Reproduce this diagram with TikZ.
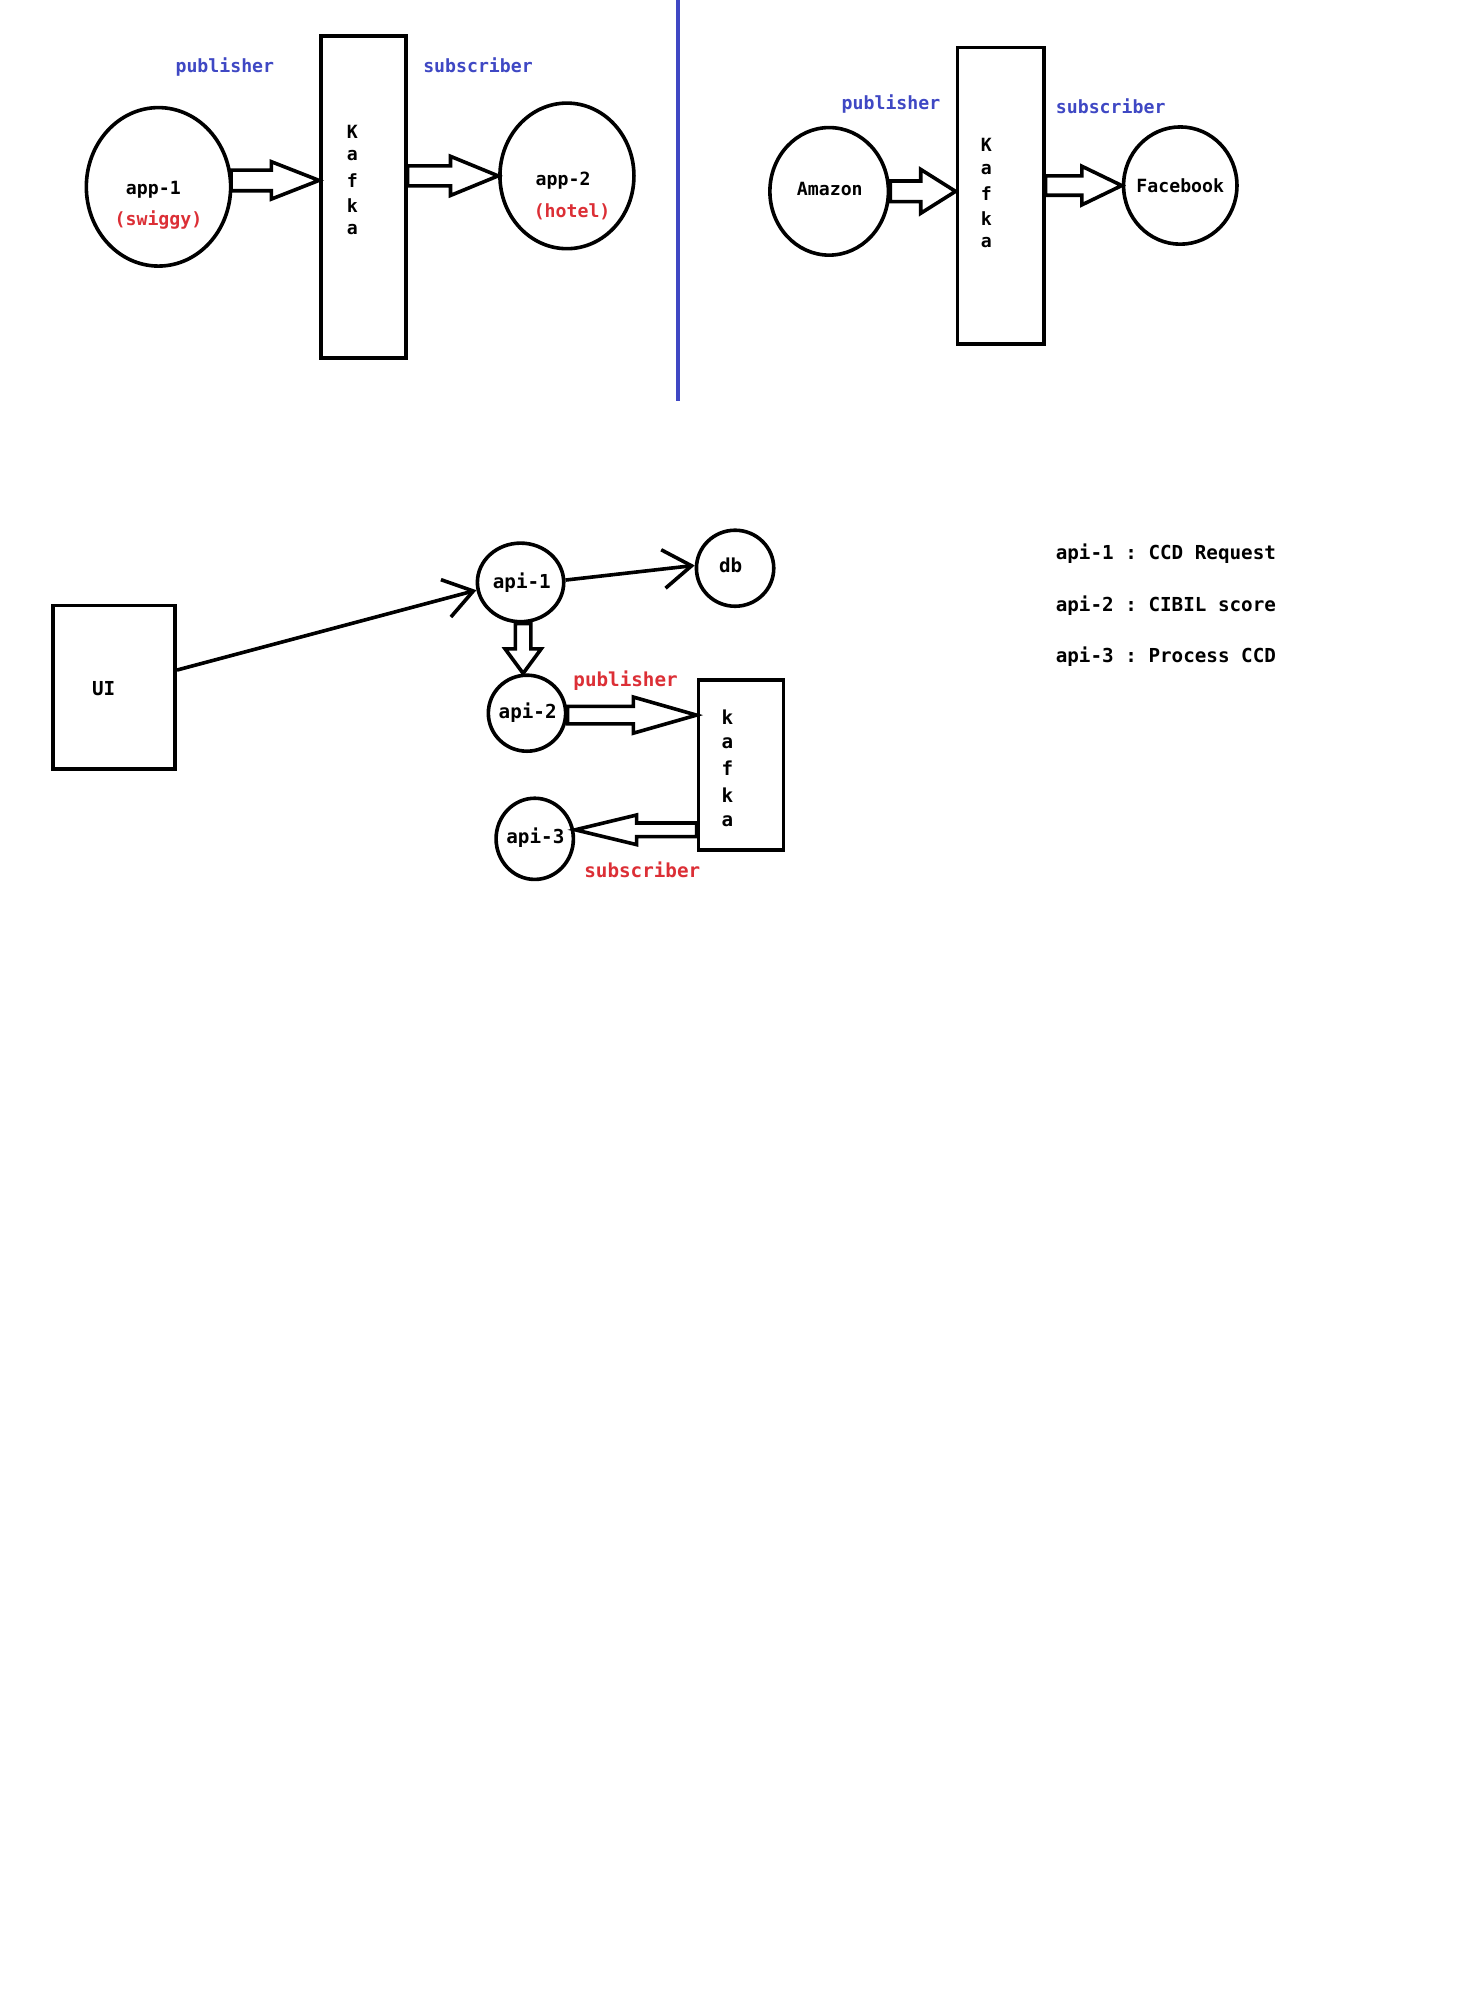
\documentclass[tikz,border=0pt]{standalone}
\usepackage{fontspec}
\setmonofont{DejaVu Sans Mono}
\usetikzlibrary{shapes.geometric,calc,arrows.meta}
\definecolor{pblue}{HTML}{3F48C4}
\definecolor{pred}{HTML}{DC2F36}
\tikzset{
  ln/.style={line width=1.4pt},
  sz/.style 2 args={minimum width={#1*0.5pt}, minimum height={#2*0.5pt}},
  oval/.style={ellipse, draw, ln, inner sep=0pt},
  box/.style={rectangle, draw, ln, inner sep=0pt},
  txts/.style={font=\ttfamily\bfseries\fontsize{7.06}{9}\selectfont, inner sep=0pt},
  txtb/.style={font=\ttfamily\bfseries\fontsize{7.47}{9}\selectfont, inner sep=0pt},
  blk/.style={draw, ln, fill=white, line join=miter},
  barb/.style={draw, ln, -{Straight Barb[length=11pt,width=15pt,line width=1.4pt]}},
}
\newcommand\blkarrow[5]{%
  \coordinate (hb) at ($(#2)!#5!(#1)$);
  \draw[blk] ($(#1)!#3!90:(#2)$) -- ($(hb)!#3!-90:(#1)$) -- ($(hb)!#4!-90:(#1)$)
    -- (#2) -- ($(hb)!#4!90:(#1)$) -- ($(hb)!#3!90:(#1)$) -- ($(#1)!#3!-90:(#2)$) -- cycle;
}
\begin{document}
\begin{tikzpicture}[x=0.5pt,y=-0.5pt]
\useasboundingbox[fill=white] (0,0) rectangle (1130,1564.6);

% ---------- top left ----------
\node[box, sz={66}{250}] (kafka1) at (282,153) {};
\node[oval, sz={112}{123}] (app1) at (123,145) {};
\node[oval, sz={104}{113}] (app2) at (440,136.5) {};
\node[txts, pblue] (pub1) at (174.5,52) {publisher};
\node[txts, pblue] (sub1) at (371,51) {subscriber};
\node[txts] (app1t) at (119,147) {app-1};
\node[txts, pred] (app1s) at (123,170.5) {(swiggy)};
\node[txts] (app2t) at (437,140) {app-2};
\node[txts, pred] (app2s) at (444,164.5) {(hotel)};
\node[txts] (k1a) at (273.5,102.6) {K};
\node[txts] (k1b) at (273.5,121) {a};
\node[txts] (k1c) at (273.5,140) {f};
\node[txts] (k1d) at (273.5,159.6) {k};
\node[txts] (k1e) at (273.5,178.5) {a};
\coordinate (a1s) at ($(app1.east)+(-1,-5)$);
\coordinate (a1e) at (a1s -| kafka1.west);
\blkarrow{a1s}{a1e}{4pt}{7.25pt}{18.5pt}
\coordinate (a2e) at (app2.west);
\coordinate (a2s) at (a2e -| kafka1.east);
\blkarrow{a2s}{a2e}{3.9pt}{7.6pt}{18.5pt}

% divider
\coordinate (dv1) at (526.5,0);
\coordinate (dv2) at (526.5,311);
\draw[pblue, line width=1.5pt] (dv1) -- (dv2);

% ---------- top right ----------
\node[box, sz={67}{230}] (kafka2) at (776.5,152) {};
\node[oval, sz={92}{99}] (amazon) at (643.5,148.5) {};
\node[oval, sz={88}{91}] (facebook) at (916,144) {};
\node[txts] (amazont) at (644,147) {Amazon};
\node[txts] (facebookt) at (916,144) {Facebook};
\node[txts, pblue] (pub2) at (691.5,81) {publisher};
\node[txts, pblue] (sub2) at (862,82.5) {subscriber};
\node[txts] (k2a) at (765.5,112.6) {K};
\node[txts] (k2b) at (765.5,131.6) {a};
\node[txts] (k2c) at (765.5,150.2) {f};
\node[txts] (k2d) at (765.5,169.6) {k};
\node[txts] (k2e) at (765.5,188.6) {a};
\coordinate (a3s) at (amazon.east);
\coordinate (a3e) at (a3s -| kafka2.west);
\blkarrow{a3s}{a3e}{4pt}{8.5pt}{13.5pt}
\coordinate (a4e) at (facebook.west);
\coordinate (a4s) at (a4e -| kafka2.east);
\blkarrow{a4s}{a4e}{3.75pt}{7.5pt}{15.5pt}

% ---------- bottom ----------
\node[box, sz={95}{127}] (ui) at (88.5,533.5) {};
\node[oval, sz={67}{61}] (api1) at (404,452) {};
\node[oval, sz={60}{59}] (db) at (570.5,441) {};
\node[oval, sz={60}{59}] (api2) at (409,553.5) {};
\node[oval, sz={60}{63}] (api3) at (415,651) {};
\node[box, sz={66}{132}] (kafka3) at (575,593.5) {};
\node[txtb] (uit) at (80.4,534.5) {UI};
\node[txtb] (api1t) at (405,452) {api-1};
\node[txtb] (dbt) at (567,438.5) {db};
\node[txtb] (api2t) at (409.5,553.3) {api-2};
\node[txtb] (api3t) at (415.5,650.2) {api-3};
\node[txtb, pred] (pub3) at (485.5,528) {publisher};
\node[txtb, pred] (sub3) at (498.5,675) {subscriber};
\node[txtb] (k3a) at (564.5,556.7) {k};
\node[txtb] (k3b) at (564.5,576.9) {a};
\node[txtb] (k3c) at (564.5,596.5) {f};
\node[txtb] (k3d) at (564.5,617) {k};
\node[txtb] (k3e) at (564.5,637) {a};

\draw[barb] ($(ui.east)+(0,-13.5)$) -- (api1.190);
\draw[barb] (api1.3) -- (db.176);

\coordinate (a5s) at ($(api1.south)+(2,0)$);
\coordinate (a5e) at (a5s |- api2.north);
\blkarrow{a5s}{a5e}{3pt}{7pt}{9.5pt}
\coordinate (a6s) at ($(api2.east)+(0,1.5)$);
\coordinate (a6e) at (a6s -| kafka3.west);
\blkarrow{a6s}{a6e}{3.4pt}{7pt}{24.5pt}
\coordinate (a7e) at ($(api3.east)+(0,-7)$);
\coordinate (a7s) at (a7e -| kafka3.west);
\blkarrow{a7s}{a7e}{2.65pt}{5.75pt}{23.85pt}

% legend
\node[txtb, anchor=west] (leg1) at (819,430) {api-1 : CCD Request};
\node[txtb, anchor=west] (leg2) at (819,470) {api-2 : CIBIL score};
\node[txtb, anchor=west] (leg3) at (819,510) {api-3 : Process CCD};
\end{tikzpicture}
\end{document}
